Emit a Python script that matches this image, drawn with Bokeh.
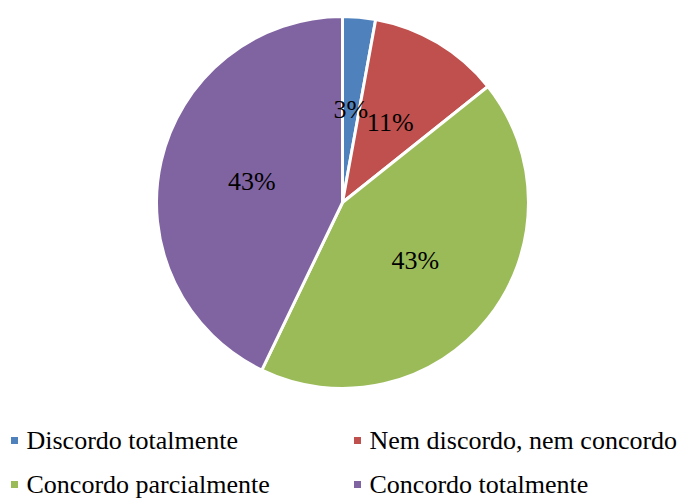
import math
from bokeh.plotting import figure
from bokeh.models import ColumnDataSource
from bokeh.core.properties import value
from bokeh.embed import file_html
from bokeh.resources import INLINE

categories = ["Discordo totalmente", "Nem discordo, nem concordo",
              "Concordo parcialmente", "Concordo totalmente"]
counts = [1, 4, 15, 15]
colors = ["#4F81BD", "#C0504D", "#9BBB59", "#8064A2"]

W, H = 686, 500
cx, cy, R = 342, H - 202, 186
FONT = "Liberation Serif"

total = sum(counts)
starts, ends, lx, ly, labels = [], [], [], [], []
cum = 0.0
for c in counts:
    a0 = math.pi / 2 - 2 * math.pi * cum / total
    cum += c
    a1 = math.pi / 2 - 2 * math.pi * cum / total
    starts.append(a0)
    ends.append(a1)
    mid = (a0 + a1) / 2
    lx.append(cx + 0.5 * R * math.cos(mid))
    ly.append(cy + 0.5 * R * math.sin(mid))
    labels.append(f"{round(100 * c / total)}%")

src = ColumnDataSource(dict(start=starts, end=ends, color=colors,
                            lx=lx, ly=ly, label=labels))

p = figure(width=W, height=H, x_range=(0, W), y_range=(0, H),
           output_backend="svg", toolbar_location=None,
           x_axis_location=None, y_axis_location=None,
           min_border=0, outline_line_color=None)
p.grid.visible = False
p.background_fill_color = "white"

p.wedge(x=cx, y=cy, radius=R, start_angle="start", end_angle="end",
        direction="clock", fill_color="color", line_color="white",
        line_width=3, source=src)
p.text(x="lx", y="ly", text="label", source=src, text_align="center",
       text_baseline="middle", text_font=value(FONT),
       text_font_size="26px", text_color="black")

# legend
col_x = [14, 357]
row_y = [H - 440, H - 484]
sx, sy, tx, ty = [], [], [], []
for i, cat in enumerate(categories):
    sx.append(col_x[i % 2])
    sy.append(row_y[i // 2])
    tx.append(col_x[i % 2] + 12)
    ty.append(row_y[i // 2])
lsrc = ColumnDataSource(dict(sx=sx, sy=sy, tx=tx, ty=ty, color=colors, cat=categories))
p.scatter(x="sx", y="sy", marker="square", size=7, fill_color="color",
          line_color=None, source=lsrc)
p.text(x="tx", y="ty", text="cat", source=lsrc, text_align="left",
       text_baseline="middle", text_font=value(FONT),
       text_font_size="26px", text_color="black")

open("out.html", "w").write(file_html(p, INLINE))
